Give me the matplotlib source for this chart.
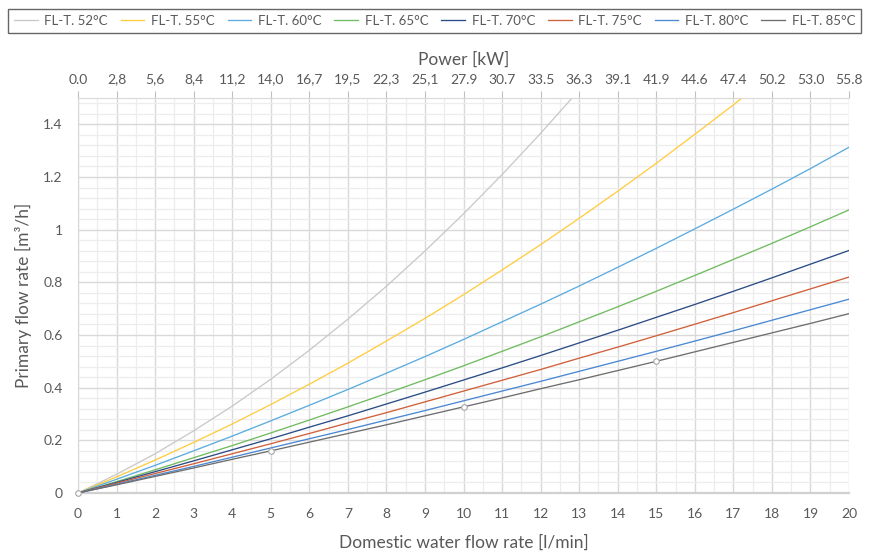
import matplotlib
matplotlib.use("Agg")
import matplotlib.pyplot as plt
import numpy as np
from matplotlib.ticker import MultipleLocator

plt.rcParams['font.family'] = ['Lato', 'DejaVu Sans']

# Domestic water flow rate [l/min]
flow = [0, 1, 2, 3, 4, 5, 6, 7, 8, 9, 10, 11, 12, 13, 14, 15, 16, 17, 18, 19, 20]

# Primary flow rate [m3/h] per flow temperature
t52 = [0, 0.071, 0.149, 0.236, 0.330, 0.432, 0.542, 0.660, 0.785, 0.919, 1.060,
       1.209, 1.366, 1.530]
t55 = [0, 0.061, 0.125, 0.192, 0.262, 0.336, 0.413, 0.493, 0.577, 0.663, 0.753,
       0.847, 0.943, 1.043, 1.146, 1.252, 1.362, 1.474, 1.590]
t60 = [0, 0.052, 0.105, 0.160, 0.216, 0.274, 0.333, 0.393, 0.455, 0.518, 0.583,
       0.650, 0.717, 0.786, 0.857, 0.929, 1.003, 1.078, 1.154, 1.232, 1.313]
t65 = [0, 0.043, 0.088, 0.134, 0.180, 0.228, 0.277, 0.327, 0.378, 0.430, 0.483,
       0.538, 0.593, 0.650, 0.707, 0.766, 0.826, 0.887, 0.948, 1.011, 1.075]
t70 = [0, 0.040, 0.081, 0.122, 0.164, 0.206, 0.250, 0.293, 0.338, 0.383, 0.429,
       0.475, 0.522, 0.570, 0.618, 0.667, 0.716, 0.766, 0.817, 0.869, 0.921]
t75 = [0, 0.037, 0.074, 0.111, 0.149, 0.187, 0.226, 0.266, 0.305, 0.346, 0.387,
       0.428, 0.469, 0.512, 0.554, 0.597, 0.641, 0.685, 0.730, 0.775, 0.820]
t80 = [0, 0.033, 0.067, 0.101, 0.136, 0.171, 0.206, 0.241, 0.277, 0.313, 0.350,
       0.387, 0.424, 0.462, 0.500, 0.538, 0.577, 0.616, 0.656, 0.696, 0.736]
t85 = [0, 0.031, 0.063, 0.095, 0.128, 0.160, 0.193, 0.226, 0.259, 0.293, 0.327,
       0.361, 0.396, 0.430, 0.465, 0.500, 0.536, 0.572, 0.608, 0.644, 0.681]

labels = ['FL-T. 52°C', 'FL-T. 55°C', 'FL-T. 60°C', 'FL-T. 65°C',
          'FL-T. 70°C', 'FL-T. 75°C', 'FL-T. 80°C', 'FL-T. 85°C']
colors = ['#C9C9C9', '#FFCC40', '#5AACE0', '#70BB60',
          '#2B4C85', '#D0603A', '#4A88D2', '#6E6E6E']
series = [t52, t55, t60, t65, t70, t75, t80, t85]

# marker points on the 85 °C curve
mark_x = [0, 5, 10, 15]

# top axis: power [kW]
power_labels = ['0.0', '2,8', '5,6', '8,4', '11,2', '14,0', '16,7', '19,5', '22,3',
                '25,1', '27.9', '30.7', '33.5', '36.3', '39.1', '41.9', '44.6',
                '47.4', '50.2', '53.0', '55.8']

txt = '#595959'
fig = plt.figure(figsize=(8.69, 5.56), dpi=100)
ax = fig.add_axes([78/869, 63/556, 771/869, 395/556])

for ys, c, lab in zip(series, colors, labels):
    ax.plot(flow[:len(ys)], ys, color=c, lw=0.95, label=lab, zorder=3)
ax.plot(mark_x, [t85[i] for i in mark_x], 'o', ms=4, mfc='white',
        mec='#A6A6A6', mew=0.8, zorder=4, clip_on=False)

ax.set_xlim(0, 20)
ax.set_ylim(0, 1.5)
ax.xaxis.set_major_locator(MultipleLocator(1))
ax.xaxis.set_minor_locator(MultipleLocator(0.5))
ax.yaxis.set_major_locator(MultipleLocator(0.2))
ax.yaxis.set_minor_locator(MultipleLocator(0.04))
ax.set_yticks([0, 0.2, 0.4, 0.6, 0.8, 1.0, 1.2, 1.4])
ax.set_yticklabels(['0', '0.2', '0.4', '0.6', '0.8', '1', '1.2', '1.4'])
ax.grid(which='major', color='#D9D9D9', lw=1.0, zorder=0)
ax.grid(which='minor', color='#EDEDED', lw=0.9, zorder=0)
ax.tick_params(which='both', length=0, labelsize=10, labelcolor=txt)
ax.tick_params(axis='x', pad=11)
ax.tick_params(axis='y', pad=11)
for s in ['top', 'right']:
    ax.spines[s].set_visible(False)
ax.spines['bottom'].set_color('#D0D0D0')
ax.spines['bottom'].set_linewidth(1.6)
ax.spines['left'].set_color('#D9D9D9')
ax.set_xlabel('Domestic water flow rate [l/min]', fontsize=12.5, color=txt, labelpad=10)
ax.set_ylabel('Primary flow rate [m³/h]', fontsize=12.5, color=txt, labelpad=8)

ax2 = ax.twiny()
ax2.set_xlim(0, 20)
ax2.set_xticks(flow)
ax2.set_xticklabels(power_labels)
ax2.tick_params(axis='x', length=5, color='#BFBFBF', labelsize=10, labelcolor=txt, pad=4)
for s in ['bottom', 'left', 'right']:
    ax2.spines[s].set_visible(False)
ax2.spines['top'].set_color('#D9D9D9')
ax2.set_xlabel('Power [kW]', fontsize=12.5, color=txt, labelpad=6)

leg = fig.legend(*ax.get_legend_handles_labels(), loc='lower left', ncol=8,
                 bbox_to_anchor=(8/869, 1 - 33/556, 853/869, 28/556), mode='expand',
                 fontsize=9.5, frameon=True, fancybox=False, handlelength=1.8,
                 handletextpad=0.5, borderaxespad=0, borderpad=0.45)
for t in leg.get_texts():
    t.set_color(txt)
leg.get_frame().set_edgecolor('#404040')
leg.get_frame().set_linewidth(1.0)

fig.savefig('out.png', dpi=100)
